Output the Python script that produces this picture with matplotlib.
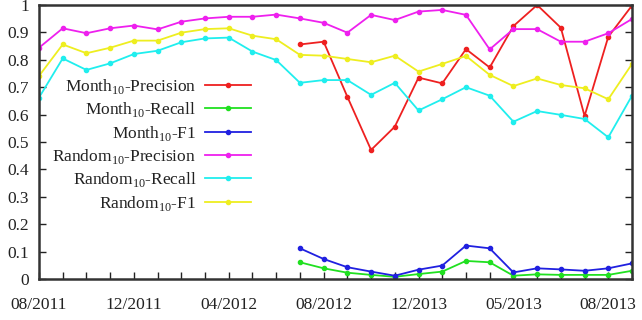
import matplotlib
matplotlib.use("Agg")
import matplotlib.pyplot as plt
import numpy as np

n_points = 26
tick_labels = ["08/2011", "12/2011", "04/2012", "08/2012", "12/2013", "05/2013", "08/2013"]
label_every = 4
month_start = 11

random_precision = [0.844, 0.915, 0.897, 0.915, 0.925, 0.911, 0.939, 0.951, 0.957, 0.957,
                    0.965, 0.951, 0.935, 0.899, 0.964, 0.945, 0.976, 0.982, 0.964, 0.838,
                    0.912, 0.912, 0.866, 0.866, 0.897, 0.949]
random_recall = [0.662, 0.805, 0.763, 0.787, 0.821, 0.833, 0.864, 0.878, 0.881, 0.830,
                 0.799, 0.716, 0.726, 0.726, 0.672, 0.716, 0.615, 0.656, 0.700, 0.669,
                 0.574, 0.613, 0.599, 0.584, 0.517, 0.669]
random_f1 = [0.741, 0.856, 0.824, 0.844, 0.870, 0.870, 0.899, 0.912, 0.915, 0.888,
             0.875, 0.818, 0.815, 0.803, 0.791, 0.815, 0.757, 0.785, 0.814, 0.745,
             0.704, 0.732, 0.708, 0.696, 0.656, 0.785]
month_precision = [0.856, 0.866, 0.665, 0.471, 0.556, 0.735, 0.714, 0.839, 0.772, 0.923,
                   1.000, 0.917, 0.595, 0.884, 0.998]
month_recall = [0.061, 0.039, 0.023, 0.015, 0.008, 0.018, 0.027, 0.066, 0.061, 0.012,
                0.017, 0.015, 0.015, 0.015, 0.030]
month_f1 = [0.112, 0.073, 0.043, 0.027, 0.012, 0.034, 0.049, 0.122, 0.112, 0.024,
            0.039, 0.035, 0.030, 0.039, 0.057]

plt.rcParams['font.family'] = ['Liberation Serif', 'DejaVu Serif']
plt.rcParams['mathtext.fontset'] = 'custom'
plt.rcParams['mathtext.rm'] = 'Liberation Serif'

FS = 12.5
fig = plt.figure(figsize=(6.42, 3.2), dpi=100)
ax = fig.add_axes([39/642, 1-279/320, (632-39)/642, (279-5)/320])

x_all = np.arange(n_points)
x_month = np.arange(month_start, n_points)

series = [
    ("Month$_{10}$-Precision", x_month, month_precision, '#ee2020'),
    ("Month$_{10}$-Recall", x_month, month_recall, '#20e020'),
    ("Month$_{10}$-F1", x_month, month_f1, '#2020e0'),
    ("Random$_{10}$-Precision", x_all, random_precision, '#ee20ee'),
    ("Random$_{10}$-Recall", x_all, random_recall, '#20eeee'),
    ("Random$_{10}$-F1", x_all, random_f1, '#eeee20'),
]
for label, xs, ys, c in series:
    ax.plot(xs, ys, color=c, lw=1.3, marker='o', ms=3, mec=c, mfc=c, label=label)

ax.set_xlim(0, n_points - 1)
ax.set_ylim(0, 1)
ax.set_xticks(x_all)
ax.set_xticklabels(["" for _ in x_all])
for i, lab in enumerate(tick_labels):
    ax.text(i * label_every, -0.065, lab, transform=ax.get_xaxis_transform(),
            ha='center', va='top', fontsize=FS, color='#222222')
ax.set_yticks(np.arange(0, 1.01, 0.1))
ax.set_yticklabels(["0", "0.1", "0.2", "0.3", "0.4", "0.5", "0.6", "0.7", "0.8", "0.9", "1"])
ax.tick_params(axis='both', direction='in', length=5, width=1, colors='#222222',
               labelsize=FS, right=True, top=False)
ax.tick_params(axis='y', pad=7)
for s in ax.spines.values():
    s.set_linewidth(1.8)
    s.set_color('#333333')

leg = ax.legend(loc='upper right', bbox_to_anchor=((251-39)/593, (279-77)/274),
                markerfirst=False, frameon=False, fontsize=FS, handlelength=2.65,
                labelspacing=0.25, handletextpad=0.5, borderaxespad=0, borderpad=0)
for t in leg.get_texts():
    t.set_ha('right')
    t.set_color('#222222')
fig.canvas.draw()
for t in leg.get_texts():
    t.set_position((0, 0))

fig.savefig("out.png", dpi=100)
